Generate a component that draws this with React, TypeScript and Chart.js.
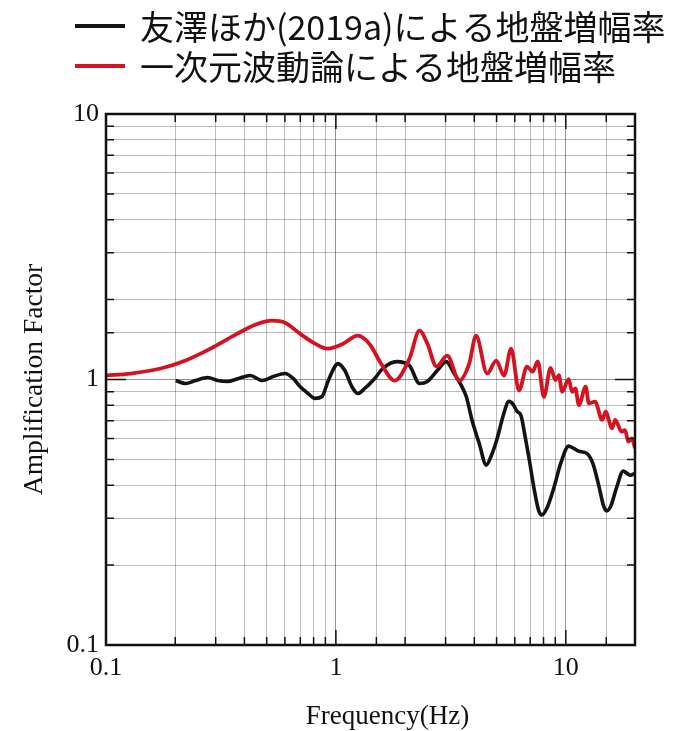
import React, { useEffect, useRef } from 'react';
import { Chart, registerables } from 'chart.js';

Chart.register(...registerables);

// ---- Data ----
const seriesNames = ['友澤ほか(2019a)による地盤増幅率', '一次元波動論による地盤増幅率'];
const seriesColors = ['#141414', 'rgb(212, 18, 32)'];

const blackFreq = [
  0.201, 0.222, 0.245, 0.277, 0.306, 0.337, 0.377, 0.424, 0.478, 0.534, 0.601, 0.652, 0.698, 0.756,
  0.811, 0.87, 0.923, 0.99, 1.02, 1.094, 1.173, 1.245, 1.335, 1.475, 1.6, 1.84, 2.09, 2.31, 2.5,
  2.76, 3.02, 3.27, 3.51, 3.69, 3.92, 4.2, 4.51, 4.73, 5.03, 5.33, 5.66, 5.9, 6.14, 6.38, 6.64,
  6.92, 7.27, 7.63, 7.87, 8.28, 8.87, 9.51, 10.3, 10.8, 11.4, 12.3, 13.1, 13.9, 14.6, 15.05, 15.7,
  16.6, 17.8, 18.4, 19.1, 20.0,
];
const blackAmp = [
  0.991, 0.966, 0.991, 1.017, 0.991, 0.983, 1.009, 1.035, 0.991, 1.026, 1.053, 1.009, 0.941, 0.886,
  0.849, 0.863, 0.983, 1.119, 1.148, 1.081, 0.941, 0.886, 0.925, 1.009, 1.1, 1.168, 1.128, 0.966, 0.983,
  1.081, 1.168, 1.053, 0.95, 0.863, 0.696, 0.575, 0.476, 0.514, 0.6, 0.726, 0.827, 0.806, 0.758, 0.733, 0.616,
  0.505, 0.39, 0.32, 0.309, 0.328, 0.39, 0.484, 0.561, 0.551, 0.537, 0.528, 0.484, 0.4, 0.334, 0.32, 0.334,
  0.39, 0.452, 0.444, 0.436, 0.444,
];

const redFreq = [
  0.1, 0.128, 0.173, 0.222, 0.285, 0.366, 0.446, 0.528, 0.601, 0.698, 0.811, 0.914, 0.95, 1.07,
  1.245, 1.4, 1.58, 1.8, 2.09, 2.31, 2.5, 2.74, 3.05, 3.44, 3.8, 4.07, 4.55, 4.98, 5.39, 5.78,
  6.26, 6.78, 7.17, 7.55, 8.03, 8.59, 9.02, 9.33, 9.64, 10.3, 10.65, 11.0, 11.4, 12.2, 12.6, 13.4,
  14.4, 14.9, 15.9, 16.4, 17.5, 18.1, 18.7, 19.4, 20.0,
];
const redAmp = [
  1.035, 1.053, 1.1, 1.18, 1.307, 1.475, 1.608, 1.665, 1.636, 1.488, 1.365, 1.307, 1.31, 1.36,
  1.462, 1.36, 1.14, 0.99, 1.2, 1.527, 1.365, 1.119, 1.23, 0.99, 1.148, 1.462, 1.053, 1.178, 1.035, 1.307,
  0.909, 1.119, 1.07, 1.17, 0.861, 1.106, 0.994, 1.038, 0.899, 1.003, 0.899, 0.925, 0.801, 0.939, 0.813, 0.825,
  0.704, 0.756, 0.655, 0.704, 0.636, 0.645, 0.584, 0.6, 0.551,
];

const xTickLabels = [0.1, 1, 10];
const yTickLabels = [0.1, 1, 10];
const xTitle = 'Frequency(Hz)';
const yTitle = 'Amplification Factor';

const isPow10 = (v: number) => Math.abs(Math.log10(v) - Math.round(Math.log10(v))) < 1e-6;
const labelFor = (v: number, list: number[]) => {
  const hit = list.find((l) => Math.abs(Math.log10(v) - Math.log10(l)) < 1e-6);
  return hit === undefined ? '' : String(hit);
};

const framePlugin = {
  id: 'frameAndLegend',
  afterDraw(chart: any) {
    const { ctx, chartArea } = chart;
    const { left, right, top, bottom } = chartArea;
    const xs = chart.scales.x;
    const ys = chart.scales.y;
    ctx.save();
    ctx.strokeStyle = '#111';
    ctx.lineWidth = 1.5;
    ctx.beginPath();
    for (const t of xs.ticks) {
      const px = xs.getPixelForValue(t.value);
      const len = isPow10(t.value) ? 15 : 8;
      ctx.moveTo(px, bottom);
      ctx.lineTo(px, bottom - len);
      ctx.moveTo(px, top);
      ctx.lineTo(px, top + len);
    }
    for (const t of ys.ticks) {
      const py = ys.getPixelForValue(t.value);
      const len = isPow10(t.value) ? 20 : 8;
      ctx.moveTo(left, py);
      ctx.lineTo(left + len, py);
      ctx.moveTo(right, py);
      ctx.lineTo(right - len, py);
    }
    ctx.stroke();
    ctx.lineWidth = 2.5;
    ctx.strokeRect(left, top, right - left, bottom - top);

    // x-axis title (offset to the right as in the original figure)
    ctx.fillStyle = '#111';
    ctx.font = '27px "Liberation Serif"';
    ctx.textAlign = 'center';
    ctx.textBaseline = 'middle';
    ctx.fillText(xTitle, (left + right) / 2 + 17, 717);

    // legend
    const rows = [26, 66];
    ctx.font = '34px "Noto Sans CJK JP"';
    ctx.textBaseline = 'middle';
    ctx.textAlign = 'left';
    seriesNames.forEach((name, i) => {
      ctx.strokeStyle = seriesColors[i];
      ctx.lineWidth = 4;
      ctx.beginPath();
      ctx.moveTo(75, rows[i]);
      ctx.lineTo(125, rows[i]);
      ctx.stroke();
      ctx.fillStyle = '#111';
      ctx.fillText(name, 140, rows[i] + 1);
    });
    ctx.restore();
  },
};

export default function App() {
  const ref = useRef<HTMLCanvasElement | null>(null);

  useEffect(() => {
    if (!ref.current) return;
    const gridColor = (c: any) =>
      c.tick && isPow10(c.tick.value) ? 'rgba(0,0,0,0.42)' : 'rgba(0,0,0,0.26)';
    const chart = new Chart(ref.current, {
      type: 'line',
      data: {
        datasets: [
          {
            label: seriesNames[0],
            data: blackFreq.map((f, i) => ({ x: f, y: blackAmp[i] })),
            borderColor: seriesColors[0],
            borderWidth: 3.6,
            pointRadius: 0,
            cubicInterpolationMode: 'monotone',
            fill: false,
            order: 1,
          },
          {
            label: seriesNames[1],
            data: redFreq.map((f, i) => ({ x: f, y: redAmp[i] })),
            borderColor: seriesColors[1],
            borderWidth: 3.8,
            pointRadius: 0,
            cubicInterpolationMode: 'monotone',
            fill: false,
            order: 0,
          },
        ],
      },
      options: {
        responsive: false,
        animation: false,
        devicePixelRatio: 1,
        layout: { padding: { top: 114, right: 43, bottom: 0, left: 0 } },
        plugins: { legend: { display: false }, tooltip: { enabled: false } },
        scales: {
          x: {
            type: 'logarithmic',
            position: 'bottom',
            min: 0.1,
            max: 20,
            afterFit: (s: any) => {
              s.height = 86;
            },
            grid: { color: gridColor, lineWidth: 1, drawTicks: false },
            border: { display: false },
            ticks: {
              autoSkip: false,
              maxRotation: 0,
              minRotation: 0,
              padding: 8,
              color: '#111',
              font: { family: '"Liberation Serif"', size: 26 },
              callback: (v: any) => labelFor(Number(v), xTickLabels),
            },
            title: { display: false },
          },
          y: {
            type: 'logarithmic',
            min: 0.1,
            max: 10,
            afterFit: (s: any) => {
              s.width = 106;
            },
            grid: { color: gridColor, lineWidth: 1, drawTicks: false },
            border: { display: false },
            ticks: {
              autoSkip: false,
              padding: 7,
              color: '#111',
              font: { family: '"Liberation Serif"', size: 26 },
              callback: (v: any) => labelFor(Number(v), yTickLabels),
            },
            title: {
              display: true,
              text: yTitle,
              color: '#111',
              font: { family: '"Liberation Serif"', size: 27.5 },
              padding: { top: 18, bottom: 0 },
            },
          },
        },
      },
      plugins: [framePlugin],
    } as any);
    return () => chart.destroy();
  }, []);

  return (
    <div style={{ position: 'absolute', left: 0, top: 0, width: 678, height: 731, background: '#fff' }}>
      <canvas ref={ref} width={678} height={731} style={{ display: 'block' }} />
    </div>
  );
}
